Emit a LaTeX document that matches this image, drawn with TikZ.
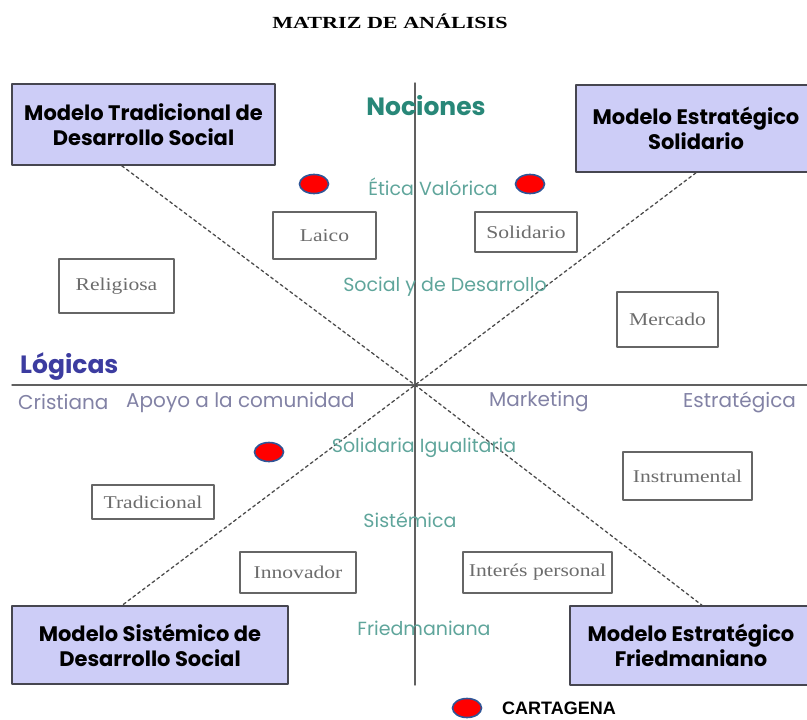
\documentclass[tikz,border=0pt]{standalone}
\usepackage{fontspec}
\setmainfont{Liberation Serif}
\newfontfamily\gothic{Poppins}
\newfontfamily\wideserif{Liberation Serif}[FakeStretch=1.2]
\newfontfamily\titleserif{Liberation Serif}[FakeStretch=1.3]
\newfontfamily\legendsans{Liberation Sans}
\usetikzlibrary{calc,shapes.geometric}
\definecolor{lavanda}{RGB}{205,205,247}
\definecolor{teal1}{RGB}{95,165,155}
\definecolor{teal2}{RGB}{40,135,120}
\definecolor{indigo1}{RGB}{60,60,160}
\definecolor{grisazul}{RGB}{130,130,165}
\definecolor{borde}{RGB}{70,70,80}
\definecolor{azulborde}{RGB}{47,85,151}
\begin{document}
\begin{tikzpicture}[x=1pt,y=-1pt,line cap=round,line join=round,
	modelo/.style={draw=borde,line width=1.6pt,fill=lavanda,inner sep=0pt,align=center,font=\gothic\bfseries\fontsize{21}{25}\selectfont},
	caja/.style={draw=gray!80!black,line width=1.4pt,inner sep=0pt,text=gray!85!black,font=\wideserif\fontsize{18}{20}\selectfont},
	nocion/.style={inner sep=0pt,text=teal1,font=\gothic\fontsize{19}{21}\selectfont},
	logica/.style={inner sep=0pt,text=grisazul,font=\gothic\fontsize{20}{22}\selectfont,anchor=west},
	punto/.style={ellipse,draw=azulborde,line width=1.6pt,fill=red,minimum width=29pt,minimum height=19pt,inner sep=0pt},
	eje/.style={draw=gray!75!black,line width=1.4pt},
	diag/.style={draw=gray!60!black,line width=1.3pt,dash pattern=on 3pt off 3pt}]
	\useasboundingbox (0,0) rectangle (807,720);
	\node[font=\titleserif\bfseries\fontsize{17}{20}\selectfont] (titulo) at (390,21) {MATRIZ DE ANÁLISIS};
	\coordinate (c) at (415,385);
	\coordinate (ntop) at (415,83);
	\coordinate (nbot) at (415,685);
	\coordinate (lizq) at (12,385);
	\coordinate (lder) at (807,385);
	\draw[eje] (ntop) -- (nbot);
	\draw[eje] (lizq) -- (lder);
	\node[modelo,minimum width=263pt,minimum height=81pt] (tradicional) at (143.5,124.5) {Modelo Tradicional de\\Desarrollo Social};
	\node[modelo,minimum width=240pt,minimum height=87pt] (solidario) at (696,128.5) {Modelo Estratégico\\Solidario};
	\node[modelo,minimum width=276pt,minimum height=78pt] (sistemico) at (150,645) {Modelo Sistémico de\\Desarrollo Social};
	\node[modelo,minimum width=242pt,minimum height=79pt] (friedman) at (691,645.5) {Modelo Estratégico\\Friedmaniano};
	\draw[diag] ($(tradicional.south west)!0.418!(tradicional.south east)$) -- (c) -- ($(friedman.north west)!0.545!(friedman.north east)$);
	\draw[diag] (solidario.south) -- (c) -- ($(sistemico.north west)!0.4!(sistemico.north east)$);
	\node[inner sep=0pt,text=teal2,font=\gothic\bfseries\fontsize{25}{28}\selectfont] (nociones) at (426,106) {Nociones};
	\node[nocion] (etica) at (433,187) {Ética Valórica};
	\node[nocion] (social) at (445,287) {Social y de Desarrollo};
	\node[nocion] (igualitaria) at (424,448) {Solidaria Igualitaria};
	\node[nocion] (sistemica) at (410,520) {Sistémica};
	\node[nocion] (friedmaniana) at (424,628) {Friedmaniana};
	\node[inner sep=0pt,anchor=west,text=indigo1,font=\gothic\bfseries\fontsize{25}{28}\selectfont] (logicas) at (20,367) {Lógicas};
	\node[logica] (cristiana) at (18,402) {Cristiana};
	\node[logica] (apoyo) at (126,402) {Apoyo a la comunidad};
	\node[logica] (marketing) at (489,402) {Marketing};
	\node[logica] (estrategica) at (683,402) {Estratégica};
	\node[caja,minimum width=103pt,minimum height=47pt] (laico) at (324.5,235.5) {Laico};
	\node[caja,minimum width=115pt,minimum height=54pt] (religiosa) at (116.5,286) {Religiosa};
	\node[caja,minimum width=102pt,minimum height=40pt] (solid) at (526,232) {Solidario};
	\node[caja,minimum width=101pt,minimum height=55pt] (mercado) at (667.5,319.5) {Mercado};
	\node[caja,minimum width=122pt,minimum height=34pt] (tradic) at (153,502) {Tradicional};
	\node[caja,minimum width=116pt,minimum height=41pt] (innovador) at (298,572.5) {Innovador};
	\node[caja,minimum width=129pt,minimum height=48pt] (instrumental) at (687.5,476) {Instrumental};
	\node[caja,minimum width=149pt,minimum height=41pt] (interes) at (537.5,572.5) {Interés personal};
	\node[punto] (p1) at (314,184) {};
	\node[punto] (p2) at (530,184) {};
	\node[punto] (p3) at (269,452) {};
	\node[punto] (p4) at (467,708) {};
	\node[inner sep=0pt,anchor=west,font=\legendsans\bfseries\fontsize{18}{20}\selectfont] (cartagena) at (502,708) {CARTAGENA};
\end{tikzpicture}
\end{document}
